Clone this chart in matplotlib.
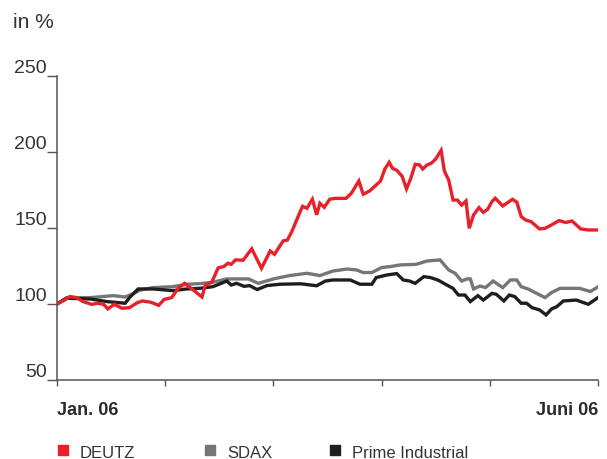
import matplotlib
matplotlib.use("Agg")
import matplotlib.pyplot as plt
from matplotlib.patches import Rectangle

plt.rcParams['font.family'] = ['Liberation Sans', 'DejaVu Sans']

# x positions in months since start of January 2006 (0 = Jan., 5 = Juni)
deutz_x = [0.00, 0.07, 0.12, 0.18, 0.24, 0.32, 0.38, 0.43, 0.47, 0.53, 0.60, 0.67, 0.74, 0.79,
           0.87, 0.94, 0.99, 1.06, 1.12, 1.18, 1.24, 1.34, 1.37, 1.43, 1.49, 1.54, 1.58, 1.61,
           1.65, 1.72, 1.80, 1.89, 1.97, 2.01, 2.09, 2.13, 2.17, 2.25, 2.27, 2.31, 2.36, 2.40,
           2.43, 2.47, 2.52, 2.57, 2.67, 2.72, 2.79, 2.83, 2.89, 2.99, 3.03, 3.07, 3.10, 3.14,
           3.19, 3.23, 3.27, 3.31, 3.35, 3.38, 3.42, 3.46, 3.50, 3.55, 3.58, 3.62, 3.66, 3.70,
           3.74, 3.78, 3.81, 3.85, 3.90, 3.94, 3.98, 4.02, 4.05, 4.12, 4.21, 4.25, 4.29, 4.33,
           4.38, 4.46, 4.51, 4.57, 4.64, 4.70, 4.76, 4.84, 4.91, 5.00]
deutz_y = [100.0, 102.6, 104.9, 104.2, 101.6, 99.8, 100.5, 99.8, 96.8, 99.8, 97.2, 97.6, 100.8, 102.0,
           101.1, 99.1, 103.0, 104.2, 110.3, 113.6, 110.3, 104.6, 112.3, 114.3, 123.8, 124.6, 126.8, 126.1,
           129.0, 128.8, 136.3, 123.5, 134.9, 132.7, 141.5, 142.1, 147.6, 161.2, 164.3, 163.0, 168.9, 158.7,
           166.3, 163.6, 168.9, 169.5, 169.5, 172.8, 180.9, 172.2, 174.4, 180.9, 188.8, 193.2, 189.3, 188.0,
           184.0, 175.7, 182.7, 191.9, 191.5, 188.8, 191.5, 192.6, 195.4, 201.1, 187.5, 181.6, 168.4, 168.4,
           165.1, 167.8, 149.8, 158.6, 163.4, 160.3, 162.3, 167.4, 169.6, 164.5, 168.9, 166.9, 157.5, 155.3,
           154.2, 149.4, 149.8, 152.0, 154.9, 153.6, 154.6, 149.4, 148.7, 148.7]

sdax_x = [0.00, 0.09, 0.31, 0.52, 0.63, 0.71, 0.77, 0.89, 1.07, 1.20, 1.32, 1.44, 1.57, 1.77,
          1.86, 2.00, 2.15, 2.31, 2.43, 2.55, 2.68, 2.77, 2.83, 2.91, 3.00, 3.08, 3.17, 3.32,
          3.42, 3.54, 3.62, 3.68, 3.74, 3.79, 3.82, 3.85, 3.91, 3.96, 4.03, 4.12, 4.19, 4.25,
          4.29, 4.36, 4.40, 4.51, 4.57, 4.65, 4.83, 4.93, 5.00]
sdax_y = [100.0, 104.2, 104.2, 105.5, 104.6, 107.0, 109.2, 110.8, 111.4, 113.0, 113.4, 114.3, 116.5, 116.5,
          113.6, 116.5, 118.7, 120.2, 118.7, 121.7, 123.0, 122.4, 120.7, 120.7, 124.0, 124.6, 125.7, 126.1,
          128.3, 129.0, 122.4, 120.2, 115.1, 116.5, 116.5, 109.9, 111.8, 110.8, 115.1, 110.8, 115.8, 115.8,
          111.4, 109.7, 108.2, 104.2, 107.5, 110.3, 110.3, 108.2, 111.3]

prime_x = [0.00, 0.09, 0.31, 0.46, 0.63, 0.67, 0.75, 0.89, 1.07, 1.20, 1.32, 1.44, 1.57, 1.61,
           1.66, 1.73, 1.78, 1.85, 1.94, 2.06, 2.25, 2.40, 2.48, 2.55, 2.71, 2.80, 2.91, 2.95,
           3.05, 3.14, 3.20, 3.26, 3.31, 3.39, 3.45, 3.52, 3.59, 3.66, 3.71, 3.77, 3.82, 3.89,
           3.94, 4.02, 4.06, 4.13, 4.18, 4.23, 4.29, 4.34, 4.39, 4.46, 4.52, 4.57, 4.62, 4.68,
           4.80, 4.91, 5.00]
prime_y = [100.0, 103.8, 103.3, 101.6, 100.5, 104.2, 109.9, 109.9, 108.8, 109.9, 110.3, 111.4, 115.1, 112.5,
           113.6, 111.6, 112.1, 109.5, 112.1, 113.0, 113.3, 112.0, 115.1, 115.8, 115.8, 113.0, 113.0, 117.4,
           119.1, 120.0, 115.8, 115.1, 113.6, 118.0, 117.4, 115.8, 113.0, 110.3, 105.9, 105.9, 101.6, 105.5,
           102.6, 107.0, 106.4, 102.0, 105.9, 104.9, 100.5, 100.5, 97.6, 96.1, 92.8, 96.7, 98.3, 102.0,
           102.6, 99.8, 104.2]

y_ticks = [50, 100, 150, 200, 250]
x_ticks = [0, 1, 2, 3, 4, 5]
x_labels = {0: "Jan. 06", 5: "Juni 06"}
series_names = ["DEUTZ", "SDAX", "Prime Industrial"]
series_colors = ["#e8202a", "#767676", "#1e1e1e"]

W, H = 607, 460
fig = plt.figure(figsize=(W / 100, H / 100), dpi=100)
ax = fig.add_axes([57 / W, 1 - 381 / H, 541 / W, 304 / H])

ax.plot(sdax_x, sdax_y, color=series_colors[1], lw=2.4, solid_joinstyle='miter', zorder=2)
ax.plot(prime_x, prime_y, color=series_colors[2], lw=2.4, solid_joinstyle='miter', zorder=3)
ax.plot(deutz_x, deutz_y, color=series_colors[0], lw=2.4, solid_joinstyle='miter', zorder=4)

ax.set_xlim(0, 5)
ax.set_ylim(50, 250)
for s in ['top', 'right']:
    ax.spines[s].set_visible(False)
for s in ['left', 'bottom']:
    ax.spines[s].set_color('#555555')
    ax.spines[s].set_linewidth(1.1)

ax.set_yticks(y_ticks)
ax.set_yticklabels([])
ax.tick_params(axis='y', direction='out', length=7.5, width=1.0, color='#555555')
ax.set_xticks(x_ticks)
ax.set_xticklabels([])
ax.tick_params(axis='x', direction='out', length=4.5, width=1.0, color='#555555')

label_color = '#333333'
for v in y_ticks:
    ax.annotate(str(v), xy=(0, v), xycoords=('axes fraction', 'data'),
                xytext=(-10, 0), textcoords='offset pixels',
                ha='right', va='bottom', fontsize=14, color=label_color)

for xv, txt in x_labels.items():
    ax.annotate(txt, xy=(xv, 0), xycoords=('data', 'axes fraction'),
                xytext=(0, -21), textcoords='offset pixels',
                ha='left' if xv == 0 else 'right', va='top',
                fontsize=13, fontweight='bold', color='#2a2a2a',
                family=['Liberation Sans Narrow', 'Liberation Sans', 'DejaVu Sans'])

fig.text(13 / W, 1 - 28 / H, "in %", fontsize=15, color=label_color, ha='left', va='baseline')

leg_x = [58, 205, 330]
for px, name, col in zip(leg_x, series_names, series_colors):
    fig.patches.append(Rectangle((px / W, 1 - 456 / H), 10 / W, 10 / H,
                                 transform=fig.transFigure, color=col, figure=fig))
    fig.text((px + 22) / W, 1 - 458 / H, name, fontsize=12, color=label_color,
             ha='left', va='baseline')

fig.savefig("out.png", dpi=100)
